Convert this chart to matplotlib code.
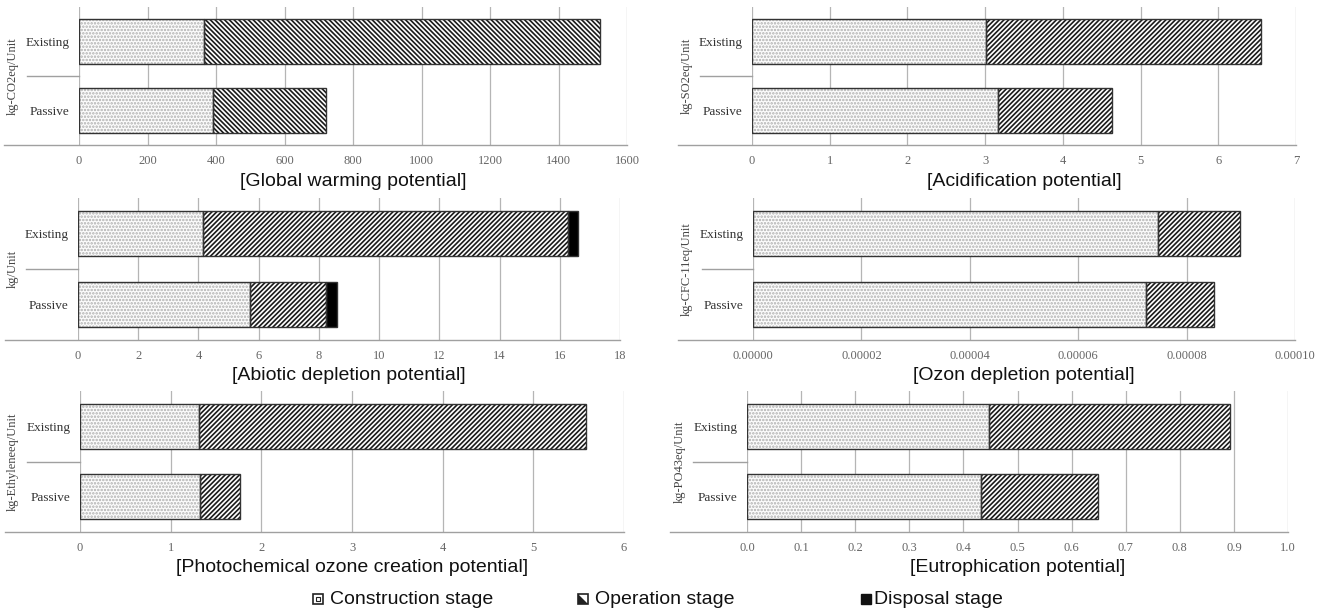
import matplotlib
matplotlib.use('Agg')
import matplotlib.pyplot as plt
from matplotlib.patches import Rectangle, Polygon
from matplotlib.ticker import FormatStrFormatter

plt.rcParams['hatch.linewidth'] = 1.2

W, H = 1331, 614

categories = ['Existing', 'Passive']

# Global warming potential (kg-CO2eq/Unit)
gwp_construction = [365, 390]
gwp_operation = [1156, 332]

# Acidification potential (kg-SO2eq/Unit)
ap_construction = [3.01, 3.16]
ap_operation = [3.54, 1.47]

# Abiotic depletion potential (kg/Unit)
adp_construction = [4.15, 5.72]
adp_operation = [12.13, 2.52]
adp_disposal = [0.31, 0.35]

# Ozon depletion potential (kg-CFC-11eq/Unit)
odp_construction = [7.48e-5, 7.26e-5]
odp_operation = [1.51e-5, 1.25e-5]

# Photochemical ozone creation potential (kg-Ethyleneeq/Unit)
pocp_construction = [1.31, 1.32]
pocp_operation = [4.27, 0.44]

# Eutrophication potential (kg-PO43eq/Unit)
ep_construction = [0.447, 0.433]
ep_operation = [0.446, 0.215]

gwp_ticks = [0, 200, 400, 600, 800, 1000, 1200, 1400, 1600]
ap_ticks = [0, 1, 2, 3, 4, 5, 6, 7]
adp_ticks = [0, 2, 4, 6, 8, 10, 12, 14, 16, 18]
odp_ticks = [0, 0.00002, 0.00004, 0.00006, 0.00008, 0.0001]
pocp_ticks = [0, 1, 2, 3, 4, 5, 6]
ep_ticks = [0.0, 0.1, 0.2, 0.3, 0.4, 0.5, 0.6, 0.7, 0.8, 0.9, 1.0]

fig = plt.figure(figsize=(W / 100, H / 100), dpi=100)

serif = 'Liberation Serif'
sans = 'Liberation Sans'


def panel(rect, frame_left, sep_left, title, ylabel, ylabel_x, ticks, fmt,
          construction, operation, disposal=None, hatch='/' * 7):
    l, t, r, b = rect
    ax = fig.add_axes([l / W, 1 - b / H, (r - l) / W, (b - t) / H])
    ypos = [1, 0]
    h = 0.64
    ax.barh(ypos, construction, height=h, color='#fcfcfc', edgecolor='#b0b0b0',
            hatch='.....', linewidth=0, zorder=2)
    ax.barh(ypos, operation, left=construction, height=h, color='white',
            edgecolor='#1a1a1a', hatch=hatch, linewidth=0, zorder=2)
    totals = [c + o for c, o in zip(construction, operation)]
    if disposal is not None:
        ax.barh(ypos, disposal, left=totals, height=h, color='black',
                linewidth=0, zorder=2)
    # segment outlines
    ax.barh(ypos, construction, height=h, fill=False, edgecolor='#333333', linewidth=1, zorder=3)
    ax.barh(ypos, operation, left=construction, height=h, fill=False,
            edgecolor='#333333', linewidth=1, zorder=3)
    if disposal is not None:
        ax.barh(ypos, disposal, left=totals, height=h, fill=False,
                edgecolor='#333333', linewidth=1, zorder=3)

    ax.set_xlim(ticks[0], ticks[-1])
    ax.set_ylim(-0.5, 1.5)
    ax.set_xticks(ticks)
    ax.xaxis.set_major_formatter(FormatStrFormatter(fmt))
    ax.set_yticks(ypos)
    ax.set_yticklabels(categories)
    for lab in ax.get_xticklabels():
        lab.set_fontfamily(serif)
        lab.set_fontsize(9)
        lab.set_color('#666666')
    for lab in ax.get_yticklabels():
        lab.set_fontfamily(serif)
        lab.set_fontsize(9.5)
        lab.set_color('#333333')
    ax.tick_params(axis='both', length=0)
    ax.tick_params(axis='x', pad=7)
    ax.tick_params(axis='y', pad=7)
    ax.grid(axis='x', color='#b5b5b5', linewidth=0.9)
    ax.set_axisbelow(True)
    for s in ['top', 'right', 'left', 'bottom']:
        ax.spines[s].set_visible(False)

    aw = r - l
    # category axis line and separator extended into the label area
    ax.plot([-(l - frame_left) / aw, 1], [0, 0], transform=ax.transAxes,
            color='#a0a0a0', linewidth=1, clip_on=False)
    ax.plot([-(l - sep_left) / aw, 0], [0.5, 0.5], transform=ax.transAxes,
            color='#a0a0a0', linewidth=1, clip_on=False)

    ax.annotate(title, xy=(0.5, 0), xycoords='axes fraction',
                xytext=(0, -36), textcoords='offset pixels',
                ha='center', va='center', fontsize=14, family=sans, color='#111111')
    fig.text(ylabel_x / W, 1 - (t + b) / 2 / H, ylabel, rotation=90,
             ha='center', va='center', fontsize=9, family=serif, color='#444444')
    return ax


panel((79, 7, 627, 145), 4, 27, '[Global warming potential]', 'kg-CO2eq/Unit', 13,
      gwp_ticks, '%d', gwp_construction, gwp_operation, hatch='\\' * 7)
panel((752, 7, 1296, 145), 678, 700, '[Acidification potential]', 'kg-SO2eq/Unit', 687,
      ap_ticks, '%d', ap_construction, ap_operation)
panel((78, 198, 620, 340), 5, 26, '[Abiotic depletion potential]', 'kg/Unit', 13,
      adp_ticks, '%d', adp_construction, adp_operation, adp_disposal)
panel((753, 198, 1295, 340), 678, 702, '[Ozon depletion potential]', 'kg-CFC-11eq/Unit', 687,
      odp_ticks, '%.5f', odp_construction, odp_operation)
panel((80, 391, 624, 532), 5, 27, '[Photochemical ozone creation potential]',
      'kg-Ethyleneeq/Unit', 13, pocp_ticks, '%d', pocp_construction, pocp_operation)
panel((747, 391, 1288, 532), 670, 693, '[Eutrophication potential]', 'kg-PO43eq/Unit', 680,
      ep_ticks, '%.1f', ep_construction, ep_operation)

# legend
ly = 599
sq = 10


def fig_rect(x, y, **kw):
    return Rectangle((x / W, 1 - (y + sq / 2) / H), sq / W, sq / H,
                     transform=fig.transFigure, **kw)


fig.add_artist(fig_rect(313, ly, facecolor='white', edgecolor='#222222', linewidth=1.2))
fig.add_artist(Rectangle(((313 + 3) / W, 1 - (ly + 2) / H), 4 / W, 4 / H,
                         transform=fig.transFigure, facecolor='white',
                         edgecolor='#222222', linewidth=0.8))
fig.text(330 / W, 1 - ly / H, 'Construction stage', ha='left', va='center',
         fontsize=14, family=sans, color='#111111')

fig.add_artist(fig_rect(578, ly, facecolor='white', edgecolor='#222222', linewidth=1.2))
fig.add_artist(Polygon([(578 / W, 1 - (ly + sq / 2) / H), (578 / W, 1 - (ly - sq / 2) / H),
                        ((578 + sq) / W, 1 - (ly + sq / 2) / H)],
                       closed=True, transform=fig.transFigure, facecolor='#222222',
                       edgecolor='none'))
fig.text(595 / W, 1 - ly / H, 'Operation stage', ha='left', va='center',
         fontsize=14, family=sans, color='#111111')

fig.add_artist(fig_rect(861, ly, facecolor='#111111', edgecolor='#111111', linewidth=1))
fig.text(874 / W, 1 - ly / H, 'Disposal stage', ha='left', va='center',
         fontsize=14, family=sans, color='#111111')

fig.savefig('out.png', dpi=100)
